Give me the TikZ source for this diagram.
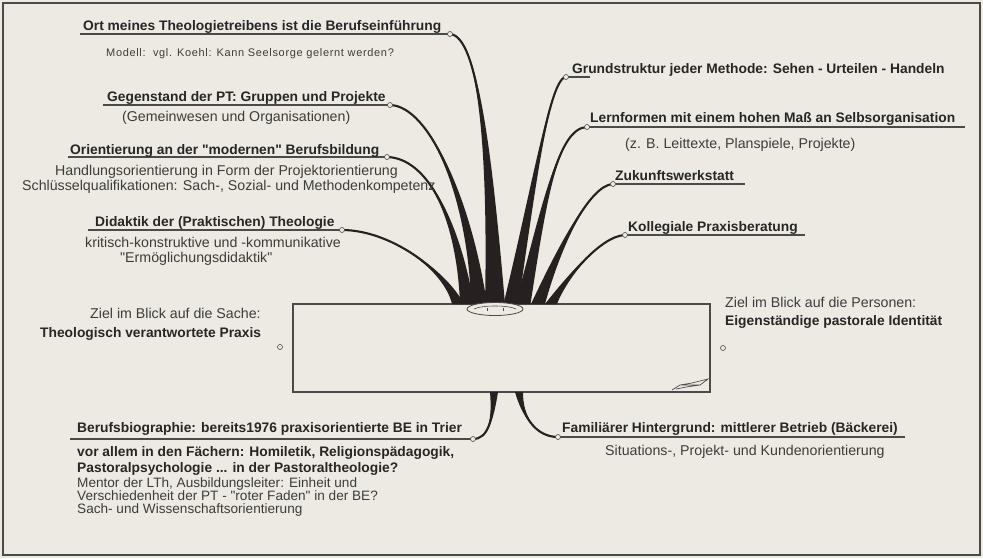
\documentclass[tikz,border=0pt]{standalone}
\usepackage{fontspec}
\setmainfont{Liberation Sans}
\usetikzlibrary{calc}
\definecolor{bg}{HTML}{ECEAE3}
\definecolor{txtb}{HTML}{262626}
\definecolor{txtr}{HTML}{3C3C3C}
\definecolor{linec}{HTML}{4A4A4A}
\definecolor{brc}{HTML}{262120}
\newcommand\qd{\textquotedbl}
\newcommand\branchfill[6]{%
 \fill[brc] (#1) .. controls (#2) and ($(#3)+(-#6,0)$) .. ($(#4)+(-#5,0)$) -- ($(#4)+(#5,0)$) .. controls ($(#3)+(#6,0)$) and (#2) .. (#1) -- cycle;
 \draw[brc, line width=2.1pt] (#1) .. controls (#2) and (#3) .. (#4);
}
\begin{document}
\begin{tikzpicture}[x=1pt,y=-1pt,
 lb/.style={font=\fontsize{13.8}{16}\selectfont\bfseries, text=txtb, inner sep=0pt, anchor=base west},
 lr/.style={font=\fontsize{14.2}{16}\selectfont, text=txtr, inner sep=0pt, anchor=base west},
 lrs/.style={font=\fontsize{13.6}{16}\selectfont, text=txtr, inner sep=0pt, anchor=base west},
 lsmall/.style={font=\fontsize{11}{13}\selectfont\addfontfeatures{LetterSpace=6}, text=txtr, inner sep=0pt, anchor=base west},
 uline/.style={draw=linec, line width=1.1pt},
 smalldot/.style={circle, draw=linec, fill=bg, line width=0.6pt, minimum size=5pt, inner sep=0pt}]
\useasboundingbox (0,0) rectangle (983,558);
\fill[bg] (0,0) rectangle (983,558);
\draw[linec, line width=1.4pt] (3,3) rectangle (980,555);
% box (pot)
\draw[linec, line width=1.2pt] (293,304) rectangle (710,392);
% coordinates: tips
\coordinate (cA) at (450,34);
\coordinate (cB) at (390,105);
\coordinate (cC) at (387,157);
\coordinate (cD) at (342,230);
\coordinate (cE) at (566,77);
\coordinate (cF) at (587,127);
\coordinate (cG) at (613,184);
\coordinate (cH) at (625,235);
\coordinate (cR1) at (473,439);
\coordinate (cR2) at (558,437);
% bases
\coordinate (bA) at (495,304);
\coordinate (bB) at (479,304);
\coordinate (bC) at (467,304);
\coordinate (bD) at (458,304);
\coordinate (bE) at (511,304);
\coordinate (bF) at (523,304);
\coordinate (bG) at (538,304);
\coordinate (bH) at (551,304);
\coordinate (bR1) at (494,392);
\coordinate (bR2) at (519,392);
% underline ends
\coordinate (uA) at (80,34);
\coordinate (uB) at (103,105);
\coordinate (uC) at (68,157);
\coordinate (uD) at (88,230);
\coordinate (uE) at (590,77);
\coordinate (uF) at (965,127);
\coordinate (uG) at (745,184);
\coordinate (uH) at (805,235);
\coordinate (uR1) at (70,439);
\coordinate (uR2) at (905,437);
% branches
\branchfill{cA}{478,36}{490,150}{bA}{10}{1.8}
\branchfill{cB}{430,106}{470,200}{bB}{8}{1.5}
\branchfill{cC}{428,158}{458,220}{bC}{7}{1.2}
\branchfill{cD}{390,230}{445,270}{bD}{6}{1.0}
\branchfill{cE}{550,78}{535,180}{bE}{7.5}{1.4}
\branchfill{cF}{558,128}{545,200}{bF}{7.5}{1.4}
\branchfill{cG}{590,185}{560,245}{bG}{7}{1.2}
\branchfill{cH}{600,236}{565,280}{bH}{6}{1.0}
\branchfill{cR1}{488,439}{493,420}{bR1}{4}{0.6}
\branchfill{cR2}{535,437}{522,415}{bR2}{4}{0.6}
% pot ring
\draw[linec, fill=bg, line width=0.8pt] (495,309) ellipse [x radius=28pt, y radius=6.5pt];
\draw[linec, line width=0.6pt] (474,309) .. controls (481,305) and (509,305) .. (516,309);
\draw[linec, line width=0.6pt] (487,308) -- (487,311) (503,308) -- (503,311);
% scribble in box
\draw[linec, line width=0.7pt] (672,390) -- (680,385) -- (692,383) -- (708,379) -- (700,385) -- (686,387) -- (676,389) (680,385) -- (700,385);
% underlines
\draw[uline] (uA) -- (cA);
\draw[uline] (uB) -- (cB);
\draw[uline] (uC) -- (cC);
\draw[uline] (uD) -- (cD);
\draw[uline] (cE) -- (uE);
\draw[uline] (cF) -- (uF);
\draw[uline] (cG) -- (uG);
\draw[uline] (cH) -- (uH);
\draw[uline] (uR1) -- (cR1);
\draw[uline] (cR2) -- (uR2);
% dots
\foreach \c in {cA,cB,cC,cD,cE,cF,cG,cH,cR1,cR2} \node[smalldot] (d\c) at (\c) {};
\node[smalldot] (dS) at (280,347) {};
\node[smalldot] (dP) at (723,348) {};
% texts
\node[lb] (tA) at (83,30) {Ort meines Theologietreibens ist die Berufseinführung};
\node[lsmall] (tA2) at (106,56) {Modell:\ \ vgl. Koehl: Kann Seelsorge gelernt werden?};
\node[lb] (tB) at (107,101) {Gegenstand der PT: Gruppen und Projekte};
\node[lr] (tB2) at (122,121) {(Gemeinwesen und Organisationen)};
\node[lb] (tC) at (70,154) {Orientierung an der \qd modernen\qd{} Berufsbildung};
\node[lr] (tC2) at (55,175) {Handlungsorientierung in Form der Projektorientierung};
\node[lr] (tC3) at (22,190) {Schlüsselqualifikationen: Sach-, Sozial- und Methodenkompetenz};
\node[lb] (tD) at (95,226) {Didaktik der (Praktischen) Theologie};
\node[lr] (tD2) at (85,247) {kritisch-konstruktive und -kommunikative};
\node[lr] (tD3) at (120,262) {\qd Ermöglichungsdidaktik\qd};
\node[lb] (tE) at (572,73) {Grundstruktur jeder Methode: Sehen - Urteilen - Handeln};
\node[lb] (tF) at (590,122) {Lernformen mit einem hohen Maß an Selbsorganisation};
\node[lr] (tF2) at (625,148) {(z. B. Leittexte, Planspiele, Projekte)};
\node[lb] (tG) at (615,180) {Zukunftswerkstatt};
\node[lb] (tH) at (628,231) {Kollegiale Praxisberatung};
\node[lr] (tS1) at (90,318) {Ziel im Blick auf die Sache:};
\node[lb] (tS2) at (40,337) {Theologisch verantwortete Praxis};
\node[lr] (tP1) at (725,307) {Ziel im Blick auf die Personen:};
\node[lb] (tP2) at (725,325) {Eigenständige pastorale Identität};
\node[lb] (tR1) at (77,432) {Berufsbiographie: bereits1976 praxisorientierte BE in Trier};
\node[lb] (tR1a) at (77,456) {vor allem in den Fächern: Homiletik, Religionspädagogik,};
\node[lb] (tR1b) at (77,472) {Pastoralpsychologie ... in der Pastoraltheologie?};
\node[lrs] (tR1c) at (77,487.5) {Mentor der LTh, Ausbildungsleiter: Einheit und};
\node[lrs] (tR1d) at (77,500.8) {Verschiedenheit der PT - \qd roter Faden\qd{} in der BE?};
\node[lrs] (tR1e) at (77,513.5) {Sach- und Wissenschaftsorientierung};
\node[lb] (tR2) at (562,432) {Familiärer Hintergrund: mittlerer Betrieb (Bäckerei)};
\node[lr] (tR2a) at (605,455) {Situations-, Projekt- und Kundenorientierung};
\end{tikzpicture}
\end{document}
